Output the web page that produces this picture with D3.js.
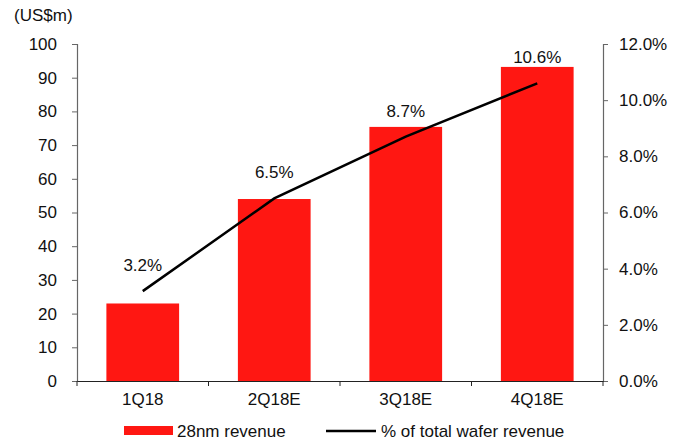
<!DOCTYPE html>
<html>
<head>
<meta charset="utf-8">
<script src="https://cdn.jsdelivr.net/npm/d3@7"></script>
<style>
  html, body { margin: 0; padding: 0; background: #fff; }
  svg text { font-family: "Liberation Sans", Arial, sans-serif; fill: #111; }
</style>
</head>
<body>
<svg id="chart" width="686" height="441"></svg>
<script>
// Quarterly 28nm revenue (US$m) and its share of total wafer revenue (%)
const quarters = ["1Q18", "2Q18E", "3Q18E", "4Q18E"];
const revenue = [23, 54, 75.4, 93.2];
const sharePct = [3.2, 6.5, 8.7, 10.6];
const leftTicks = [0, 10, 20, 30, 40, 50, 60, 70, 80, 90, 100];
const rightTicks = [0, 2, 4, 6, 8, 10, 12];
const legendLabels = ["28nm revenue", "% of total wafer revenue"];

const svg = d3.select("#chart");
const plot = { left: 77, right: 603, top: 44, bottom: 381 };
const fontSize = 17;

const x = d3.scaleBand().domain(quarters).range([plot.left, plot.right]).paddingInner(0.447).paddingOuter(0.2235);
const xCenter = d3.scaleBand().domain(quarters).range([plot.left, plot.right]);
const yL = d3.scaleLinear().domain([0, 100]).range([plot.bottom, plot.top]);
const yR = d3.scaleLinear().domain([0, 12]).range([plot.bottom, plot.top]);

// Bars
svg.append("g").selectAll("rect").data(quarters).join("rect")
  .attr("x", d => x(d))
  .attr("width", x.bandwidth())
  .attr("y", (d, i) => yL(revenue[i]))
  .attr("height", (d, i) => plot.bottom - yL(revenue[i]))
  .attr("fill", "#ff1712");

// Left axis
const gL = svg.append("g").attr("transform", `translate(${plot.left},0)`)
  .call(d3.axisLeft(yL).tickValues(leftTicks).tickSize(5).tickPadding(15).tickFormat(d3.format("d")));
gL.select(".domain").attr("stroke", "#666").attr("stroke-width", 1.2);
gL.selectAll(".tick line").attr("stroke", "#666");
gL.selectAll("text").style("font-size", fontSize + "px").attr("fill", "#111");

// Right axis
const gR = svg.append("g").attr("transform", `translate(${plot.right},0)`)
  .call(d3.axisRight(yR).tickValues(rightTicks).tickSize(5).tickPadding(11).tickFormat(d => d.toFixed(1) + "%"));
gR.select(".domain").attr("stroke", "#666").attr("stroke-width", 1.2);
gR.selectAll(".tick line").attr("stroke", "#666");
gR.selectAll("text").style("font-size", fontSize + "px").attr("fill", "#111");

// Category baseline with ticks at band boundaries
const gX = svg.append("g").attr("transform", `translate(0,${plot.bottom})`)
  .call(d3.axisBottom(xCenter).tickSize(0).tickPadding(12));
gX.select(".domain").attr("stroke", "#222").attr("stroke-width", 1.2);
gX.selectAll("text").style("font-size", fontSize + "px").attr("fill", "#111");
const bounds = quarters.map(q => xCenter(q)).concat([plot.right]);
gX.selectAll("line.sep").data(bounds).join("line").attr("class", "sep")
  .attr("x1", d => d).attr("x2", d => d).attr("y1", 0).attr("y2", 5)
  .attr("stroke", "#222").attr("stroke-width", 1);

// Unit label
svg.append("text").attr("x", 14).attr("y", 21).style("font-size", fontSize + "px").text("(US$m)");

// Share line
const line = d3.line()
  .x((d, i) => xCenter(quarters[i]) + xCenter.bandwidth() / 2)
  .y(d => yR(d));
svg.append("path").datum(sharePct).attr("d", line)
  .attr("fill", "none").attr("stroke", "#000").attr("stroke-width", 2.5);

// Share value labels
svg.append("g").selectAll("text").data(sharePct).join("text")
  .attr("x", (d, i) => xCenter(quarters[i]) + xCenter.bandwidth() / 2)
  .attr("y", d => yR(d) - 20)
  .attr("text-anchor", "middle")
  .style("font-size", fontSize + "px")
  .text(d => d.toFixed(1) + "%");

// Legend
const lg = svg.append("g");
lg.append("rect").attr("x", 124).attr("y", 426).attr("width", 49).attr("height", 9).attr("fill", "#ff1712");
lg.append("text").attr("x", 177).attr("y", 437).style("font-size", fontSize + "px").text(legendLabels[0]);
lg.append("line").attr("x1", 326).attr("x2", 376).attr("y1", 431).attr("y2", 431).attr("stroke", "#000").attr("stroke-width", 2.5);
lg.append("text").attr("x", 381).attr("y", 437).style("font-size", fontSize + "px").text(legendLabels[1]);
</script>
</body>
</html>
